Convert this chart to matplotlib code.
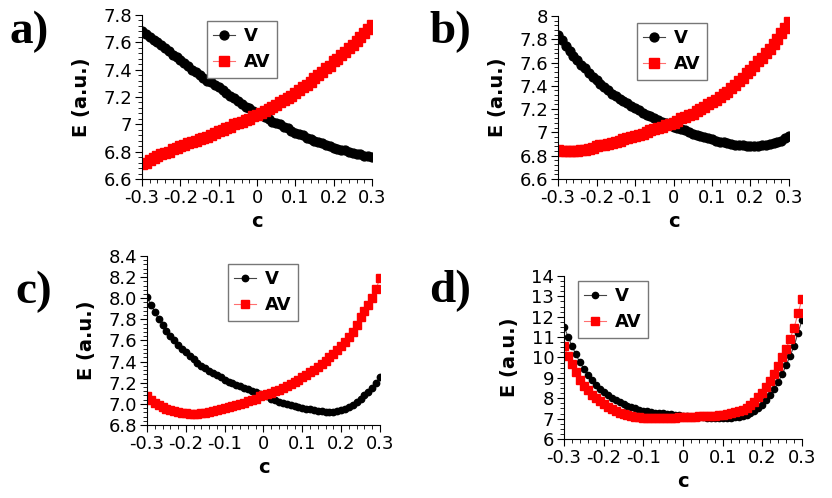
import numpy as np
import matplotlib.pyplot as plt
from matplotlib.ticker import MultipleLocator

plt.rcParams['axes.unicode_minus'] = False
plt.rcParams['font.family'] = ['DejaVu Sans']

c = np.round(np.arange(-30, 31) / 100, 2)

# panel a
a_v = [7.68, 7.66, 7.64, 7.62, 7.60, 7.58, 7.56, 7.54, 7.51, 7.49, 7.47,
       7.45, 7.43, 7.40, 7.38, 7.36, 7.34, 7.32, 7.31, 7.29, 7.27,
       7.25, 7.23, 7.21, 7.19, 7.17, 7.15, 7.13, 7.12, 7.10, 7.08,
       7.07, 7.05, 7.04, 7.02, 7.01, 7.00, 6.98, 6.97, 6.95, 6.94,
       6.93, 6.92, 6.90, 6.89, 6.88, 6.87, 6.86, 6.85, 6.84, 6.83,
       6.82, 6.81, 6.81, 6.80, 6.79, 6.78, 6.78, 6.77, 6.77, 6.76]
a_av = [6.71, 6.72, 6.74, 6.75, 6.77, 6.78, 6.79, 6.80, 6.82, 6.83, 6.84,
        6.85, 6.86, 6.87, 6.88, 6.89, 6.90, 6.91, 6.92, 6.94, 6.95,
        6.96, 6.97, 6.98, 7.00, 7.01, 7.02, 7.03, 7.04, 7.06, 7.07,
        7.08, 7.10, 7.11, 7.13, 7.14, 7.16, 7.18, 7.19, 7.21, 7.23,
        7.25, 7.27, 7.29, 7.31, 7.34, 7.36, 7.38, 7.41, 7.43, 7.46,
        7.48, 7.51, 7.53, 7.56, 7.58, 7.61, 7.64, 7.67, 7.70, 7.73]

# panel b
b_v = [7.84, 7.79, 7.74, 7.70, 7.66, 7.62, 7.58, 7.55, 7.51, 7.48, 7.45,
       7.42, 7.39, 7.36, 7.33, 7.31, 7.29, 7.27, 7.25, 7.23, 7.21,
       7.19, 7.17, 7.15, 7.14, 7.12, 7.11, 7.09, 7.08, 7.06, 7.05,
       7.04, 7.03, 7.02, 7.00, 6.99, 6.98, 6.97, 6.96, 6.95, 6.94,
       6.93, 6.92, 6.92, 6.91, 6.90, 6.89, 6.89, 6.89, 6.88, 6.88,
       6.88, 6.88, 6.89, 6.89, 6.90, 6.91, 6.92, 6.93, 6.95, 6.97]
b_av = [6.85, 6.84, 6.84, 6.84, 6.84, 6.84, 6.85, 6.85, 6.86, 6.87, 6.88,
        6.89, 6.89, 6.90, 6.91, 6.92, 6.93, 6.94, 6.95, 6.96, 6.97,
        6.98, 6.99, 7.00, 7.02, 7.03, 7.04, 7.05, 7.06, 7.07, 7.08,
        7.10, 7.12, 7.13, 7.15, 7.16, 7.18, 7.20, 7.22, 7.24, 7.26,
        7.28, 7.30, 7.33, 7.35, 7.38, 7.41, 7.44, 7.47, 7.51, 7.54,
        7.57, 7.61, 7.64, 7.68, 7.72, 7.76, 7.80, 7.85, 7.90, 7.95]

# panel c
c_v = [8.01, 7.94, 7.87, 7.80, 7.75, 7.69, 7.64, 7.60, 7.56, 7.52, 7.49,
       7.45, 7.42, 7.39, 7.36, 7.34, 7.31, 7.29, 7.27, 7.25, 7.23,
       7.21, 7.20, 7.18, 7.17, 7.15, 7.14, 7.12, 7.11, 7.09, 7.08,
       7.07, 7.05, 7.04, 7.02, 7.01, 7.00, 6.99, 6.98, 6.97, 6.96,
       6.95, 6.95, 6.94, 6.93, 6.93, 6.92, 6.92, 6.92, 6.93, 6.94,
       6.95, 6.97, 6.99, 7.02, 7.05, 7.08, 7.11, 7.15, 7.20, 7.25]
c_av = [7.07, 7.04, 7.01, 6.99, 6.97, 6.95, 6.94, 6.93, 6.92, 6.91, 6.91,
        6.90, 6.90, 6.90, 6.91, 6.91, 6.92, 6.93, 6.94, 6.95, 6.96,
        6.97, 6.98, 6.99, 7.00, 7.01, 7.03, 7.04, 7.05, 7.07, 7.08,
        7.09, 7.10, 7.12, 7.13, 7.15, 7.17, 7.19, 7.21, 7.23, 7.25,
        7.27, 7.30, 7.32, 7.35, 7.38, 7.41, 7.44, 7.47, 7.51, 7.55,
        7.59, 7.63, 7.68, 7.75, 7.82, 7.88, 7.94, 8.00, 8.09, 8.19]

# panel d
d_v = [11.52, 11.03, 10.57, 10.15, 9.76, 9.43, 9.14, 8.88, 8.65, 8.46, 8.30,
       8.15, 8.02, 7.90, 7.80, 7.71, 7.63, 7.56, 7.50, 7.44, 7.39,
       7.36, 7.33, 7.30, 7.28, 7.26, 7.23, 7.21, 7.18, 7.16, 7.14,
       7.12, 7.10, 7.09, 7.07, 7.06, 7.05, 7.04, 7.04, 7.03, 7.03,
       7.04, 7.05, 7.07, 7.10, 7.14, 7.20, 7.27, 7.37, 7.50, 7.68,
       7.90, 8.15, 8.45, 8.80, 9.18, 9.62, 10.08, 10.57, 11.22, 11.84]
d_av = [10.57, 10.08, 9.67, 9.27, 8.91, 8.61, 8.38, 8.17, 7.99, 7.84, 7.71,
        7.59, 7.48, 7.39, 7.30, 7.22, 7.16, 7.12, 7.09, 7.07, 7.05,
        7.04, 7.03, 7.02, 7.02, 7.02, 7.03, 7.04, 7.05, 7.06, 7.07,
        7.08, 7.09, 7.10, 7.11, 7.12, 7.13, 7.14, 7.15, 7.17, 7.19,
        7.22, 7.26, 7.31, 7.37, 7.44, 7.53, 7.65, 7.82, 8.04, 8.28,
        8.55, 8.85, 9.20, 9.59, 10.00, 10.44, 10.93, 11.47, 12.17, 12.89]

panels = [
    # label, v, av, ylim, major, minor, axes rect, label pos, legend anchor, marker sizes
    ('a)', a_v, a_av, (6.6, 7.8), 0.2, 0.04, [0.1707, 0.6406, 0.2764, 0.3293],
     (0.012, 0.935), (0.2488, 0.9578), (6.4, 6.8)),
    ('b)', b_v, b_av, (6.6, 8.0), 0.2, 0.04, [0.6707, 0.6406, 0.2776, 0.3273],
     (0.516, 0.935), (0.7656, 0.9538), (6.4, 6.8)),
    ('c)', c_v, c_av, (6.8, 8.4), 0.2, 0.04, [0.1767, 0.1466, 0.2800, 0.3394],
     (0.018, 0.413), (0.274, 0.470), (4.6, 5.2)),
    ('d)', d_v, d_av, (6, 14), 1, 0.25, [0.6779, 0.1185, 0.2861, 0.3273],
     (0.516, 0.416), (0.6947, 0.4357), (4.5, 5.4)),
]

fig = plt.figure(figsize=(8.32, 4.98), dpi=100)

for lab, v, av, ylim, major, minor, rect, lpos, leg_at, ms in panels:
    ax = fig.add_axes(rect)
    ax.plot(c, v, '-', color='#444444', lw=0.8, marker='o', ms=ms[0],
            mfc='black', mec='black', label='V')
    ax.plot(c, av, '-', color='#ff7070', lw=0.8, marker='s', ms=ms[1],
            mfc='red', mec='red', label='AV')
    ax.set_xlim(-0.3, 0.3)
    ax.set_ylim(*ylim)
    ax.xaxis.set_major_locator(MultipleLocator(0.1))
    ax.xaxis.set_minor_locator(MultipleLocator(0.02))
    ax.yaxis.set_major_locator(MultipleLocator(major))
    ax.yaxis.set_minor_locator(MultipleLocator(minor))
    if lab == 'c)':
        ax.yaxis.set_major_formatter(plt.FuncFormatter(lambda t, p: f'{t:.1f}'))
    else:
        ax.yaxis.set_major_formatter(plt.FuncFormatter(lambda t, p: f'{t:g}'))
    ax.xaxis.set_major_formatter(plt.FuncFormatter(lambda t, p: f'{t:g}'))
    ax.spines['top'].set_visible(False)
    ax.spines['right'].set_visible(False)
    ax.tick_params(which='major', length=5, width=0.8, labelsize=13, pad=2)
    ax.tick_params(which='minor', length=3, width=0.6)
    ax.set_xlabel('c', fontsize=14, fontweight='bold', labelpad=4)
    ax.set_ylabel('E (a.u.)', fontsize=14, fontweight='bold', labelpad=9)
    ax.legend(loc='upper left', bbox_to_anchor=leg_at, bbox_transform=fig.transFigure,
              prop={'weight': 'bold', 'size': 13}, fancybox=False, edgecolor='#777777',
              framealpha=1, handlelength=1.2, handletextpad=0.5, borderpad=0.35,
              labelspacing=0.45, borderaxespad=0, markerscale=1.0)
    fig.text(lpos[0], lpos[1], lab, fontsize=34, fontweight='bold',
             family='Liberation Serif', va='center', ha='left')

fig.savefig('out.png', dpi=100)
